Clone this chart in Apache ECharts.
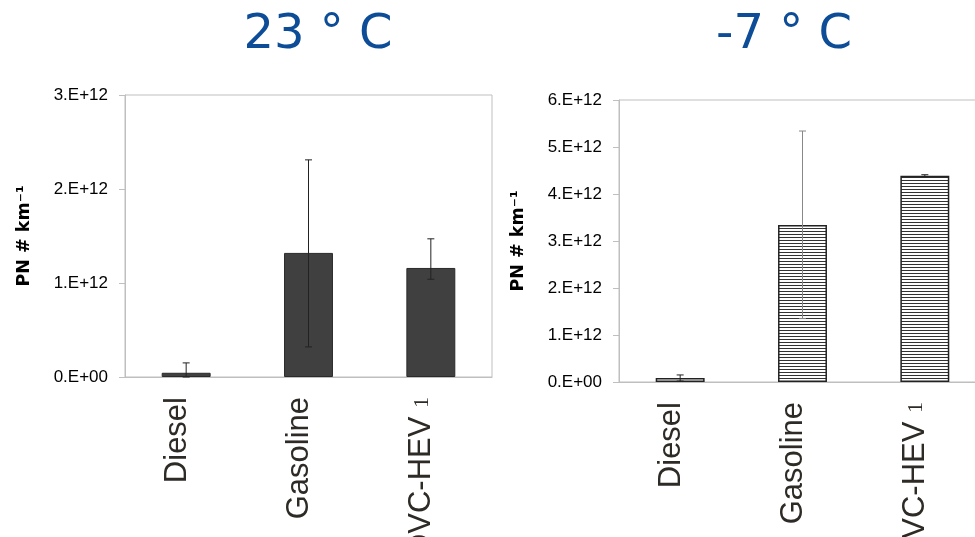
<!DOCTYPE html>
<html>
<head>
<meta charset="utf-8">
<script src="https://cdn.jsdelivr.net/npm/echarts@6/dist/echarts.min.js"></script>
<style>
html,body{margin:0;padding:0;background:#fff;}
#chart{width:975px;height:537px;}
</style>
</head>
<body>
<div id="chart"></div>
<script>
// ---- data ----
const categories = ['Diesel', 'Gasoline', 'OVC-HEV 1'];
const titles = ['23 ° C', '-7 ° C'];
const yName = 'PN # km⁻¹';
// 23 °C
const pn23 = [4.5e10, 1.32e12, 1.16e12];
const err23Low = [0, 0.32e12, 1.04e12];
const err23High = [0.15e12, 2.31e12, 1.47e12];
// -7 °C
const pnM7 = [0.085e12, 3.34e12, 4.39e12];
const errM7Low = [0.02e12, 1.35e12, 4.37e12];
const errM7High = [0.15e12, 5.34e12, 4.41e12];
// tick labels
const yTicks23 = ['0.E+00', '1.E+12', '2.E+12', '3.E+12'];
const yTicksM7 = ['0.E+00', '1.E+12', '2.E+12', '3.E+12', '4.E+12', '5.E+12', '6.E+12'];

// hatch pattern
const pc = document.createElement('canvas');
pc.width = 4; pc.height = 3;
const pctx = pc.getContext('2d');
pctx.fillStyle = '#ffffff'; pctx.fillRect(0, 0, 4, 3);
pctx.fillStyle = '#333333'; pctx.fillRect(0, 0, 4, 1);

function errData(lo, hi) { return categories.map((c, i) => [i, lo[i], hi[i]]); }
function errRender(color) {
  return function (params, api) {
    const x = api.value(0);
    const a = api.coord([x, api.value(1)]);
    const b = api.coord([x, api.value(2)]);
    const hw = 3.5;
    const st = { stroke: color, lineWidth: 1 };
    return {
      type: 'group', children: [
        { type: 'line', shape: { x1: a[0], y1: a[1], x2: b[0], y2: b[1] }, style: st },
        { type: 'line', shape: { x1: a[0] - hw, y1: a[1], x2: a[0] + hw, y2: a[1] }, style: st },
        { type: 'line', shape: { x1: b[0] - hw, y1: b[1], x2: b[0] + hw, y2: b[1] }, style: st }
      ]
    };
  };
}
function tickFmt(ticks, step) {
  return function (v) { const i = Math.round(v / step); return ticks[i] !== undefined ? ticks[i] : ''; };
}

const xLabel = {
  rotate: 90, margin: 20, color: '#2e2a26',
  fontFamily: 'Liberation Sans', fontSize: 31,
  padding: [0, 0, 18, 0],
  formatter: function (v) {
    if (v.indexOf('OVC-HEV') === 0) return 'OVC-HEV {s|' + v.slice(8) + '}';
    return v;
  },
  rich: { s: { fontFamily: 'Liberation Serif', fontSize: 22, color: '#2e2a26' } }
};
const yLabelBase = { color: '#000', fontFamily: 'Liberation Sans', fontSize: 17, margin: 17 };
const yNameStyle = { fontFamily: 'DejaVu Sans', fontWeight: 'bold', fontSize: 17.5, color: '#000' };

const option = {
  animation: false,
  backgroundColor: '#fff',
  title: [
    { text: titles[0], left: 313, top: 7, textAlign: 'center',
      textStyle: { fontFamily: 'DejaVu Sans', fontWeight: 'normal', fontSize: 48, color: '#0d4c97' } },
    { text: titles[1], left: 779, top: 7, textAlign: 'center',
      textStyle: { fontFamily: 'DejaVu Sans', fontWeight: 'normal', fontSize: 48, color: '#0d4c97' } }
  ],
  grid: [
    { left: 125, right: 483, top: 95, bottom: 160, show: true, borderColor: '#bfbfbf', borderWidth: 1,
      containLabel: false, outerBoundsMode: 'none' },
    { left: 619, right: -11, top: 100, bottom: 155, show: true, borderColor: '#bfbfbf', borderWidth: 1,
      containLabel: false, outerBoundsMode: 'none' }
  ],
  xAxis: [
    { type: 'category', gridIndex: 0, data: categories,
      axisLine: { lineStyle: { color: '#bfbfbf' } }, axisTick: { show: false }, axisLabel: xLabel },
    { type: 'category', gridIndex: 1, data: categories,
      axisLine: { lineStyle: { color: '#bfbfbf' } }, axisTick: { show: false }, axisLabel: xLabel }
  ],
  yAxis: [
    { type: 'value', gridIndex: 0, min: 0, max: 3e12, interval: 1e12,
      name: yName, nameLocation: 'middle', nameGap: 92, nameTextStyle: yNameStyle,
      axisLine: { show: true, lineStyle: { color: '#bfbfbf' } },
      axisTick: { show: true, length: 6, lineStyle: { color: '#bfbfbf' } },
      splitLine: { show: false },
      axisLabel: Object.assign({}, yLabelBase, { formatter: tickFmt(yTicks23, 1e12) }) },
    { type: 'value', gridIndex: 1, min: 0, max: 6e12, interval: 1e12,
      name: yName, nameLocation: 'middle', nameGap: 92, nameTextStyle: yNameStyle,
      axisLine: { show: true, lineStyle: { color: '#bfbfbf' } },
      axisTick: { show: true, length: 6, lineStyle: { color: '#bfbfbf' } },
      splitLine: { show: false },
      axisLabel: Object.assign({}, yLabelBase, { formatter: tickFmt(yTicksM7, 1e12) }) }
  ],
  series: [
    { type: 'bar', xAxisIndex: 0, yAxisIndex: 0, data: pn23, barWidth: '40%',
      itemStyle: { color: '#404040', borderColor: '#2a2a2a', borderWidth: 1 } },
    { type: 'custom', xAxisIndex: 0, yAxisIndex: 0, data: errData(err23Low, err23High),
      renderItem: errRender('#222'), z: 10 },
    { type: 'bar', xAxisIndex: 1, yAxisIndex: 1, data: pnM7, barWidth: '40%',
      itemStyle: { color: { image: pc, repeat: 'repeat' }, borderColor: '#222', borderWidth: 1.5 } },
    { type: 'custom', xAxisIndex: 1, yAxisIndex: 1, data: errData(errM7Low, errM7High),
      renderItem: function (params, api) {
        return errRender(params.dataIndex === 1 ? '#888' : '#222')(params, api);
      }, z: 10 }
  ]
};
const chart = echarts.init(document.getElementById('chart'), null, { renderer: 'canvas' });
chart.setOption(option);
</script>
</body>
</html>
